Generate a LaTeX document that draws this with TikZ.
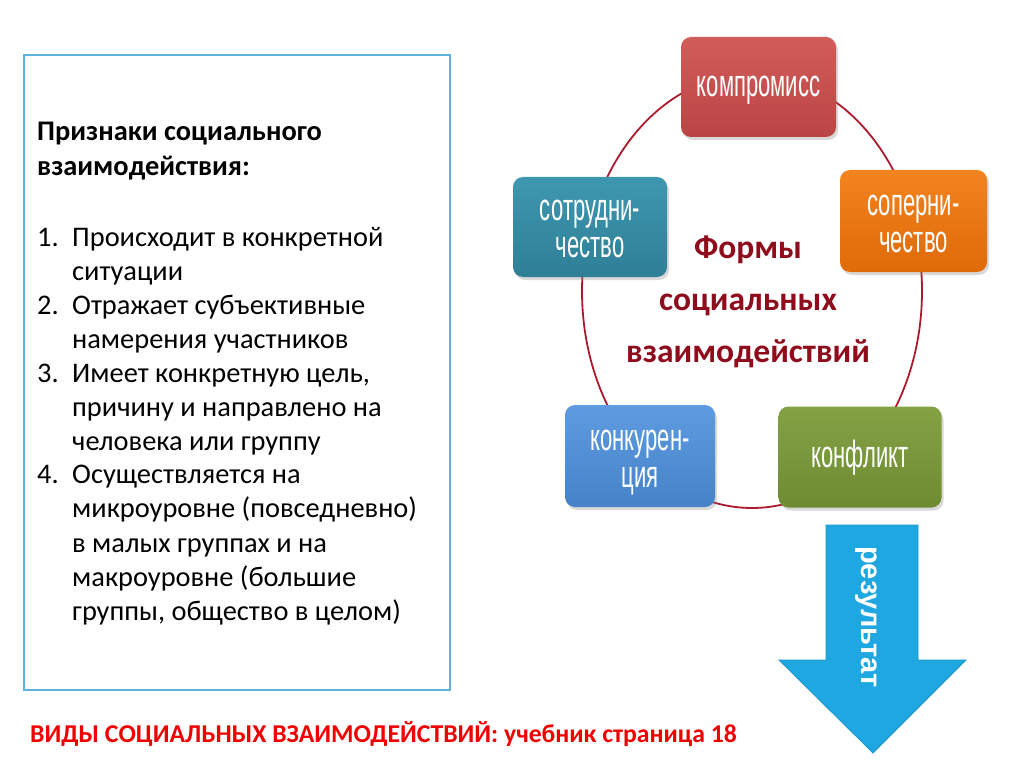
\documentclass[tikz,border=0pt]{standalone}
\usepackage{fontspec}
\setmainfont{Carlito}
\newfontfamily\narrowfont[FakeStretch=0.58]{Liberation Sans}
\newfontfamily\arialfont{Liberation Sans}
\usetikzlibrary{shadows}
\definecolor{framecol}{HTML}{5BB4DC}
\definecolor{ringcol}{HTML}{AC1A2E}
\definecolor{titlecol}{HTML}{8E0C1C}
\definecolor{arrowcol}{HTML}{1EA7E1}
\definecolor{arrowline}{HTML}{1A95CA}
\definecolor{redA}{HTML}{D25C5A}\definecolor{redB}{HTML}{B94544}
\definecolor{tealA}{HTML}{3E97B0}\definecolor{tealB}{HTML}{2E7F96}
\definecolor{orA}{HTML}{F2841F}\definecolor{orB}{HTML}{E06A08}
\definecolor{blA}{HTML}{5E9BE0}\definecolor{blB}{HTML}{4682C8}
\definecolor{grA}{HTML}{84A244}\definecolor{grB}{HTML}{6E8B32}
\definecolor{bottomred}{HTML}{F00000}
\newcommand\twoln[2]{\vbox{\baselineskip=37pt\lineskiplimit=-20pt\halign{\hfil##\hfil\cr #1\cr #2\cr}}}
\begin{document}
\begin{tikzpicture}[x=1pt,y=-1pt,
  formbox/.style={rounded corners=10pt, inner sep=0pt, text=white,
    font=\narrowfont\fontsize{38}{37}\selectfont,
    drop shadow={opacity=0.3, shadow xshift=2pt, shadow yshift=-3pt}},
  oneln/.style={text height=20pt, text depth=0pt},
  twolnbox/.style={text height=62pt, text depth=0pt},
  txt/.style={anchor=base west, inner sep=0pt, font=\fontsize{28.4}{34}\selectfont},
  num/.style={txt},
  ttl/.style={txt, font=\bfseries\fontsize{28.4}{34}\selectfont}]
\useasboundingbox (0,0) rectangle (1024,767);

% left frame
\draw[framecol, line width=1.8pt] (24,55) rectangle (450,690);
\node[ttl] (t1) at (37,141) {Признаки социального};
\node[ttl] (t2) at (37,176) {взаимодействия:};
\foreach \n/\y in {1/247,2/314,3/382,4/483}
  \node[num] (n\n) at (37,\y) {\n.};
\foreach \i/\y/\t in {1/247/{Происходит в конкретной},2/280/{ситуации},
  3/314/{Отражает субъективные},4/348/{намерения участников},
  5/382/{Имеет конкретную цель,},6/416/{причину и направлено на},
  7/450/{человека или группу},8/483/{Осуществляется на},
  9/517/{микроуровне (повседневно)},10/552/{в малых группах и на},
  11/586/{макроуровне (большие},12/620/{группы, общество в целом)}}
  \node[txt] (l\i) at (72,\y) {\t};

% ring
\draw[ringcol, line width=1.8pt] (752,291) ellipse [x radius=170, y radius=217];

% forms
\node[formbox, oneln, minimum width=155pt, minimum height=100pt, top color=redA, bottom color=redB]
  (komp) at (758.5,87) {компромисс};
\node[formbox, twolnbox, minimum width=154pt, minimum height=100pt, top color=tealA, bottom color=tealB]
  (sotr) at (590,227) {\twoln{сотрудни-}{чество}};
\node[formbox, twolnbox, minimum width=147pt, minimum height=102pt, top color=orA, bottom color=orB]
  (sop) at (913.5,221) {\twoln{соперни-}{чество}};
\node[formbox, twolnbox, minimum width=150pt, minimum height=102pt, top color=blA, bottom color=blB]
  (konk) at (640,456) {\twoln{конкурен-}{ция}};
\node[formbox, oneln, minimum width=163pt, minimum height=101pt, top color=grA, bottom color=grB]
  (konf) at (860,457) {конфликт};

\node[align=center, text=titlecol, inner sep=0pt, font=\bfseries\fontsize{33.5}{52}\selectfont]
  (title) at (748,302) {Формы\\социальных\\взаимодействий};

% arrow
\draw[fill=arrowcol, draw=arrowline, line width=0.8pt]
  (826,525) -- (918,525) -- (918,660) -- (966,660) -- (873,753) -- (779,660) -- (826,660) -- cycle;
\node[rotate=-90, text=white, inner sep=0pt, font=\arialfont\bfseries\fontsize{29}{30}\selectfont]
  (res) at (866,617) {результат};

\node[anchor=base west, inner sep=0pt, text=bottomred, font=\bfseries\fontsize{25.7}{28}\selectfont]
  (bottom) at (30,742) {ВИДЫ СОЦИАЛЬНЫХ ВЗАИМОДЕЙСТВИЙ: учебник страница 18};
\end{tikzpicture}
\end{document}
